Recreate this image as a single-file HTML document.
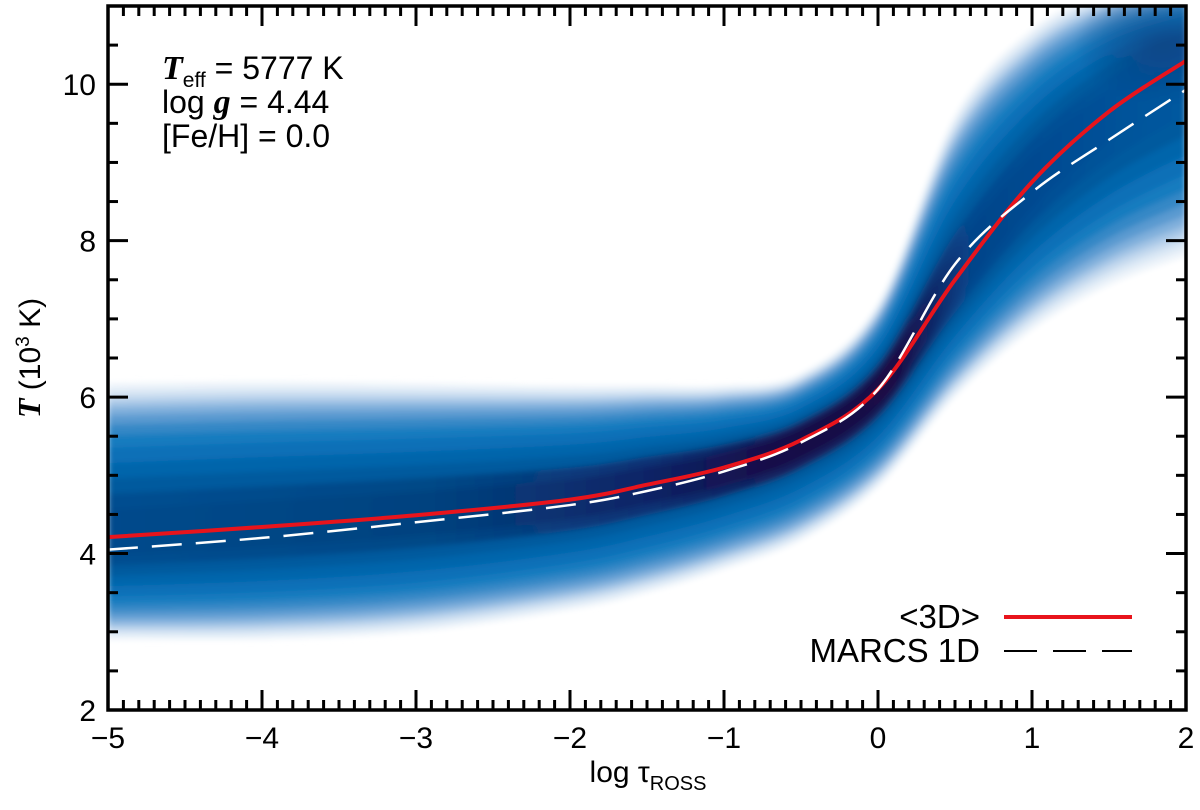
<!DOCTYPE html>
<html><head><meta charset="utf-8"><style>
body{margin:0;background:#fff}
svg text{font-family:"Liberation Sans",sans-serif;fill:#000}
</style></head><body>
<svg id="c" width="1200" height="805" xmlns="http://www.w3.org/2000/svg">
<defs>
<linearGradient id="coreg" x1="108" x2="1186" gradientUnits="userSpaceOnUse">
<stop offset="0" stop-color="#034a8c"/><stop offset="0.3" stop-color="#03427f"/>
<stop offset="0.5" stop-color="#0c2466"/><stop offset="0.62" stop-color="#180c48"/>
<stop offset="0.73" stop-color="#1a0c45"/><stop offset="0.8" stop-color="#06448a"/>
<stop offset="1" stop-color="#0458a0"/>
</linearGradient>
<radialGradient id="blobg"><stop offset="0" stop-color="#0a3f7e" stop-opacity="0.7"/><stop offset="1" stop-color="#0a3f7e" stop-opacity="0"/></radialGradient>
<filter id="blur"><feGaussianBlur stdDeviation="3"/></filter>
<clipPath id="clip"><rect x="108" y="6" width="1078" height="704"/></clipPath>
</defs>
<g clip-path="url(#clip)"><g id="bands" filter="url(#blur)"></g></g>
<g id="lines" clip-path="url(#clip)"></g>
<g id="axes"></g>
<text x="162" y="79" font-size="32"><tspan font-family="Liberation Serif" font-style="italic" font-weight="bold" font-size="34">T</tspan><tspan font-size="21" dy="8">eff</tspan><tspan dy="-8"> = 5777 K</tspan></text>
<text x="162" y="113" font-size="32">log <tspan font-family="Liberation Serif" font-style="italic" font-weight="bold" font-size="34">g</tspan> = 4.44</text>
<text x="162" y="147" font-size="32">[Fe/H] = 0.0</text>
<text x="980" y="628" font-size="33" text-anchor="end">&lt;3D&gt;</text>
<line x1="1004" y1="617" x2="1132" y2="617" stroke="#e8141c" stroke-width="4"/>
<text x="980" y="662" font-size="33" text-anchor="end">MARCS 1D</text>
<line x1="1004" y1="651" x2="1132" y2="651" stroke="#000" stroke-width="2" stroke-dasharray="33,16"/>
<text x="648" y="782" font-size="30" text-anchor="middle">log τ<tspan font-size="20" dy="8">ROSS</tspan></text>
<text transform="translate(40,358) rotate(-90)" font-size="30" text-anchor="middle"><tspan font-family="Liberation Serif" font-style="italic" font-weight="bold" font-size="32">T</tspan> (10<tspan font-size="19" dy="-11">3</tspan><tspan dy="11"> K)</tspan></text>
</svg>
<script>
const xs=[-5,-4,-3,-2,-1.5,-1,-0.5,0,0.5,1,1.5,2];
const mean3D=[4.21,4.34,4.49,4.69,4.88,5.1,5.45,6.1,7.5,8.75,9.65,10.3];
const marcs=[4.05,4.2,4.4,4.62,4.8,5.05,5.42,6.1,7.7,8.62,9.29,9.93];
const upperEnv=[6.18,6.2,6.18,6.15,6.15,6.15,6.3,7.2,9.6,10.7,11.2,11.3];
const lowerEnv=[2.9,2.9,3.0,3.28,3.5,3.8,4.17,4.85,6.0,6.86,7.43,7.8];
const xTicks=[-5,-4,-3,-2,-1,0,1,2];
const xTickLabels=["−5","−4","−3","−2","−1","0","1","2"];
const yTicks=[2,4,6,8,10];
const yTickLabels=["2","4","6","8","10"];
const X0=108,X1=1186,Y0=710,Y1=6,xmin=-5,xmax=2,ymin=2,ymax=11;
const sx=v=>X0+(v-xmin)/(xmax-xmin)*(X1-X0);
const sy=v=>Y0-(v-ymin)/(ymax-ymin)*(Y0-Y1);
const NS="http://www.w3.org/2000/svg";
function cr(pts){let d="M"+pts[0][0]+","+pts[0][1];for(let i=0;i<pts.length-1;i++){const p0=pts[Math.max(i-1,0)],p1=pts[i],p2=pts[i+1],p3=pts[Math.min(i+2,pts.length-1)];d+=" C"+(p1[0]+(p2[0]-p0[0])/6)+","+(p1[1]+(p2[1]-p0[1])/6)+" "+(p2[0]-(p3[0]-p1[0])/6)+","+(p2[1]-(p3[1]-p1[1])/6)+" "+p2[0]+","+p2[1];}return d;}
function crSeg(pts){return cr(pts).replace(/^M/,"L");}
const bands=document.getElementById("bands");
const fracs=[1,0.96,0.92,0.88,0.84,0.79,0.73,0.66,0.58,0.48,0.38,0.28,0.18];
const cols=["#eef4fa","#dbe8f5","#c2d8ee","#a3c4e5","#7fafdb","#5a9ad0","#3588c6","#197bbf","#0a70b7","#0565ab","#045a9e","url(#coreg)","url(#coreg)"];
fracs.forEach((f,k)=>{
  const up=xs.map((x,i)=>[sx(x),sy(mean3D[i]+(upperEnv[i]-mean3D[i])*f)]);
  const lo=xs.map((x,i)=>[sx(x),sy(mean3D[i]-(mean3D[i]-lowerEnv[i])*f)]).reverse();
  const p=document.createElementNS(NS,"path");
  p.setAttribute("d",cr(up)+" "+crSeg(lo)+"Z");
  p.setAttribute("fill",cols[k]);
  if(k==11)p.setAttribute("opacity","0.75");
  
  
  bands.appendChild(p);
});
const blob=document.createElementNS(NS,"ellipse");
blob.setAttribute("cx",sx(1.85));blob.setAttribute("cy",sy(10.5));blob.setAttribute("rx",90);blob.setAttribute("ry",60);
blob.setAttribute("fill","url(#blobg)");


bands.appendChild(blob);
const lines=document.getElementById("lines");
function addLine(arr,stroke,w,dash,name){const p=document.createElementNS(NS,"path");p.setAttribute("d",cr(xs.map((x,i)=>[sx(x),sy(arr[i])])));p.setAttribute("fill","none");p.setAttribute("stroke",stroke);p.setAttribute("stroke-width",w);if(dash)p.setAttribute("stroke-dasharray",dash);


lines.appendChild(p);}
addLine(mean3D,"#e8141c",4,null,"mean-3d-line");
addLine(marcs,"#ffffff",2.5,"30,14","marcs-1d-line");
const ax=document.getElementById("axes");
let h='<rect x="108" y="6" width="1078" height="704" fill="none" stroke="#000" stroke-width="3.5"/>';
for(let v=-5;v<=2.0001;v+=0.1){const X=sx(v),maj=Math.abs(v-Math.round(v))<1e-6,L=maj?20:10;h+=`<line x1="${X}" y1="${Y0}" x2="${X}" y2="${Y0-L}" stroke="#000" stroke-width="3"/><line x1="${X}" y1="${Y1}" x2="${X}" y2="${Y1+L}" stroke="#000" stroke-width="3"/>`;}
for(let v=2;v<=11.0001;v+=0.5){const Y=sy(v),maj=Math.abs(v/2-Math.round(v/2))<1e-6,L=maj?20:10;h+=`<line x1="${X0}" y1="${Y}" x2="${X0+L}" y2="${Y}" stroke="#000" stroke-width="3"/><line x1="${X1}" y1="${Y}" x2="${X1-L}" y2="${Y}" stroke="#000" stroke-width="3"/>`;}
ax.innerHTML=h;


xTicks.forEach((v,i)=>{const t=document.createElementNS(NS,"text");t.setAttribute("x",sx(v));t.setAttribute("y",748);t.setAttribute("font-size","30");t.setAttribute("text-anchor","middle");t.textContent=xTickLabels[i];


ax.appendChild(t);});
yTicks.forEach((v,i)=>{const t=document.createElementNS(NS,"text");t.setAttribute("x",96);t.setAttribute("y",sy(v)+11);t.setAttribute("font-size","30");t.setAttribute("text-anchor","end");t.textContent=yTickLabels[i];


ax.appendChild(t);});
</script>
</body></html>
